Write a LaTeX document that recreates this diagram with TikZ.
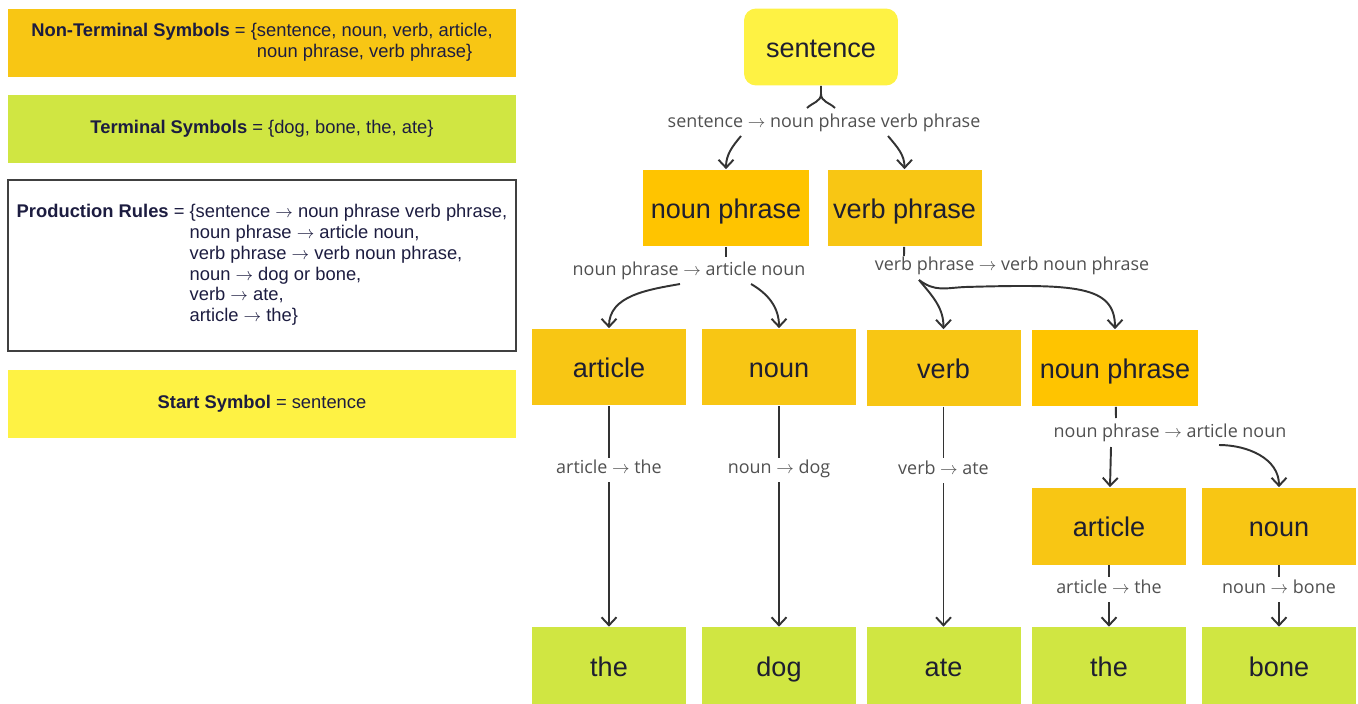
\documentclass[tikz,border=0pt]{standalone}
\usepackage{fontspec}
\setmainfont{Liberation Sans}
\newfontfamily\lblfont{Open Sans}
\usetikzlibrary{arrows.meta}
\definecolor{sentyellow}{HTML}{FEF244}
\definecolor{nporange}{HTML}{FFC400}
\definecolor{ntorange}{HTML}{F8C614}
\definecolor{termgreen}{HTML}{D0E642}
\definecolor{boxtext}{HTML}{1E1E30}
\definecolor{lblgray}{HTML}{505050}
\definecolor{conngray}{HTML}{333333}
\definecolor{legendtext}{HTML}{1C1C40}
\definecolor{rulesframe}{HTML}{404040}
\newcommand{\rarr}{\ensuremath{\rightarrow}}

\begin{document}
\begin{tikzpicture}[x=0.02cm,y=-0.02cm,>={Straight Barb[length=1.6mm,width=3mm]},
  sym/.style={minimum width=3.08cm,minimum height=1.54cm,inner sep=0pt,
    text height=13pt,text depth=1pt,
    font=\fontsize{15.4}{18}\selectfont,text=boxtext},
  sentbox/.style={sym,fill=sentyellow,rounded corners=0.24cm},
  npbox/.style={sym,fill=nporange,minimum width=3.32cm},
  ntbox/.style={sym,fill=ntorange},
  tbox/.style={sym,fill=termgreen},
  rule/.style={font=\lblfont\fontsize{10.2}{12}\selectfont,text=lblgray,fill=white,
    inner sep=1.5pt,text height=7.5pt,text depth=3.5pt},
  conn/.style={->,line width=1.1pt,draw=conngray},
  legend/.style={minimum width=10.16cm,minimum height=1.36cm,inner sep=0pt,
    font=\fontsize{10.45}{11.8}\selectfont,text=legendtext}]
  \useasboundingbox (0,0) rectangle (1358,703);

  % legend
  \node[legend,fill=ntorange] (nonterm) at (262,43) {\begin{tabular}{@{}l@{}l@{}}
    \textbf{Non-Terminal Symbols} =&\ \{sentence, noun, verb, article,\\
    &\ \phantom{\{}noun phrase, verb phrase\}\end{tabular}};
  \node[legend,fill=termgreen] (term) at (262,129) {\textbf{Terminal Symbols} = \{dog, bone, the, ate\}};
  \node[legend,draw=rulesframe,line width=0.9pt,minimum height=3.42cm] (rules) at (262,265.5) {\begin{tabular}{@{}l@{}l@{}}
    \textbf{Production Rules} =&\ \{sentence \rarr{} noun phrase verb phrase,\\
    &\ noun phrase \rarr{} article noun,\\
    &\ verb phrase \rarr{} verb noun phrase,\\
    &\ noun \rarr{} dog or bone,\\
    &\ verb \rarr{} ate,\\
    &\ article \rarr{} the\}\end{tabular}};
  \node[legend,fill=sentyellow] (start) at (262,404) {\textbf{Start Symbol} = sentence};

  % parse tree
  \node[sentbox] (sent) at (821,47) {sentence};
  \node[npbox] (np) at (726,208) {noun phrase};
  \node[ntbox] (vp) at (904.5,208) {verb phrase};
  \node[ntbox] (artA) at (609,367) {article};
  \node[ntbox] (nounA) at (779,367) {noun};
  \node[ntbox] (verb) at (943.5,368) {verb};
  \node[npbox] (npB) at (1115,368) {noun phrase};
  \node[ntbox] (artB) at (1109,526) {article};
  \node[ntbox] (nounB) at (1279,526) {noun};
  \node[tbox] (theA) at (609,665.5) {the};
  \node[tbox] (dog) at (779,665.5) {dog};
  \node[tbox] (ate) at (943.5,665.5) {ate};
  \node[tbox] (theB) at (1109,665.5) {the};
  \node[tbox] (bone) at (1279,665.5) {bone};

  % rule labels on the forks
  \node[rule] (lsent) at (824,124) {sentence \rarr{} noun phrase verb phrase};
  \node[rule] (lnp) at (689,272) {noun phrase \rarr{} article noun};
  \node[rule] (lvp) at (1012,267) {verb phrase \rarr{} verb noun phrase};
  \node[rule] (lnpB) at (1170,434) {noun phrase \rarr{} article noun};

  \coordinate (s0) at (821,94);
  \coordinate (sL) at (807,108);
  \coordinate (sR) at (835,108);
  \coordinate (sl) at (741,136);
  \coordinate (sr) at (888,136);
  \draw[conn,-] (sent) -- (s0) to[out=-90,in=45] (sL);
  \draw[conn,-] (s0) to[out=-90,in=135] (sR);
  \draw[conn] (sl) to[out=-130,in=90] (np);
  \draw[conn] (sr) to[out=-50,in=90] (vp);

  \coordinate (n0) at (726,257);
  \coordinate (nl) at (680,284);
  \coordinate (nr) at (751,284);
  \draw[conn,-] (np) -- (n0);
  \draw[conn] (nl) to[out=190,in=90] (artA);
  \draw[conn] (nr) to[out=-30,in=90] (nounA);

  \coordinate (v0) at (904,256);
  \coordinate (vl) at (919,280);
  \draw[conn,-] (vp) -- (v0);
  \draw[conn] (vl) to[out=-50,in=90] (verb);
  \draw[conn] (vl) .. controls (935,292) and (945,288) .. (965,287)
    .. controls (1075,284) and (1115,285) .. (npB);

  \coordinate (m0) at (1116,418);
  \coordinate (ml) at (1111,447);
  \coordinate (mr) at (1219,445);
  \draw[conn,-] (npB) -- (m0);
  \draw[conn] (ml) -- (artB);
  \draw[conn] (mr) to[out=0,in=90] (nounB);

  % terminal rules
  \draw[conn] (artA) -- node[rule,pos=0.29] {article \rarr{} the} (theA);
  \draw[conn] (nounA) -- node[rule,pos=0.29] {noun \rarr{} dog} (dog);
  \draw[conn] (verb) -- node[rule,pos=0.29] {verb \rarr{} ate} (ate);
  \draw[conn] (artB) -- node[rule,pos=0.4] {article \rarr{} the} (theB);
  \draw[conn] (nounB) -- node[rule,pos=0.4] {noun \rarr{} bone} (bone);
\end{tikzpicture}
\end{document}
